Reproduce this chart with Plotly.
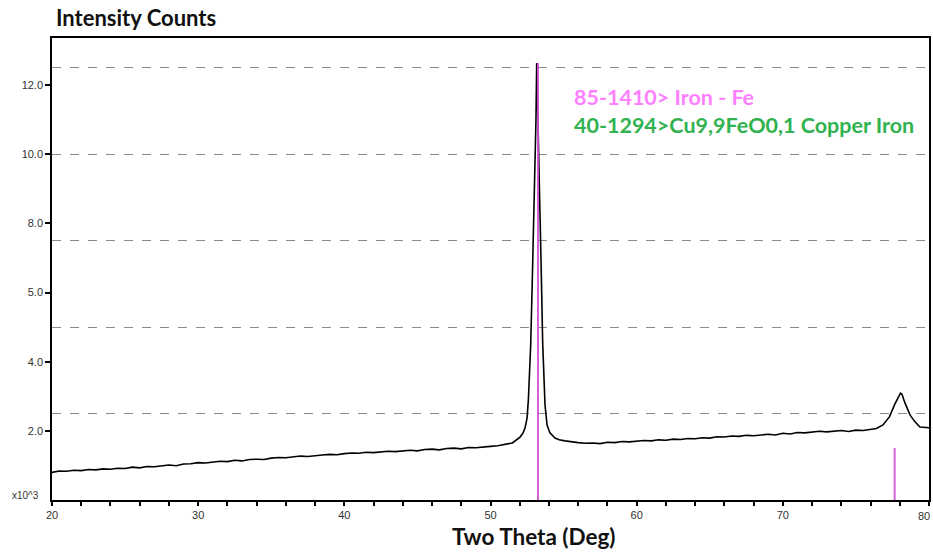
import plotly.graph_objects as go

# ---- data ----
two_theta = [
    20.0, 20.5, 21.0, 21.5, 22.0, 22.5, 23.0, 23.5, 24.0, 24.5, 25.0, 25.5, 26.0, 26.5,
    27.0, 27.5, 28.0, 28.5, 29.0, 29.5, 30.0, 30.5, 31.0, 31.5, 32.0, 32.5, 33.0, 33.5,
    34.0, 34.5, 35.0, 35.5, 36.0, 36.5, 37.0, 37.5, 38.0, 38.5, 39.0, 39.5, 40.0, 40.5,
    41.0, 41.5, 42.0, 42.5, 43.0, 43.5, 44.0, 44.5, 45.0, 45.5, 46.0, 46.5, 47.0, 47.5,
    48.0, 48.5, 49.0, 49.5, 50.0, 50.5, 51.0, 51.5, 52.02, 52.23, 52.36, 52.50, 52.59,
    52.75, 52.86, 53.02, 53.11, 53.16, 53.23, 53.38, 53.47, 53.57, 53.73, 53.87, 54.07,
    54.41, 54.7, 55.1, 55.5, 56.0, 56.5, 57.0, 57.5, 58.0, 58.5, 59.0, 59.5, 60.0, 60.5,
    61.0, 61.5, 62.0, 62.5, 63.0, 63.5, 64.0, 64.5, 65.0, 65.5, 66.0, 66.5, 67.0, 67.5,
    68.0, 68.5, 69.0, 69.5, 70.0, 70.5, 71.0, 71.5, 72.0, 72.5, 73.0, 73.5, 74.0, 74.5,
    75.0, 75.5, 76.0, 76.4, 76.85, 77.3, 77.67, 77.9, 78.05, 78.15, 78.36, 78.7, 79.04,
    79.38, 79.7, 80.0,
]
intensity_k = [
    0.80, 0.84, 0.83, 0.86, 0.85, 0.88, 0.87, 0.90, 0.89, 0.92, 0.91, 0.95, 0.93, 0.97,
    0.96, 0.99, 1.01, 0.99, 1.04, 1.05, 1.08, 1.07, 1.10, 1.12, 1.11, 1.15, 1.13, 1.17,
    1.18, 1.17, 1.21, 1.23, 1.22, 1.25, 1.27, 1.26, 1.29, 1.30, 1.32, 1.31, 1.34, 1.36,
    1.35, 1.38, 1.37, 1.40, 1.41, 1.40, 1.43, 1.44, 1.42, 1.46, 1.47, 1.45, 1.49, 1.50,
    1.48, 1.52, 1.51, 1.54, 1.55, 1.57, 1.60, 1.65, 1.82, 1.94, 2.08, 2.37, 2.89,
    4.48, 6.36, 8.96, 10.99, 12.64, 11.48, 8.82, 6.65, 4.54, 2.75, 2.17, 1.94,
    1.79, 1.74, 1.71, 1.68, 1.66, 1.64, 1.65, 1.63, 1.67, 1.66, 1.69, 1.68, 1.70, 1.72,
    1.71, 1.74, 1.73, 1.76, 1.75, 1.78, 1.77, 1.80, 1.79, 1.83, 1.82, 1.85, 1.84, 1.87,
    1.86, 1.89, 1.90, 1.88, 1.93, 1.91, 1.95, 1.94, 1.96, 1.99, 1.97, 1.98, 2.01, 1.98,
    2.02, 2.01, 2.04, 2.07, 2.17, 2.41, 2.78, 2.95, 3.09, 3.06, 2.80, 2.46, 2.26,
    2.11, 2.09, 2.09,
]

ref_positions = [53.25, 77.65]       # 85-1410 Iron - Fe reference lines
ref_heights = [12.64, 1.50]

y_tick_vals = [2, 4, 6, 8, 10, 12]
y_tick_text = ["2.0", "4.0", "5.0", "8.0", "10.0", "12.0"]
grid_levels = [2.5, 5.0, 7.5, 10.0, 12.5]
x_tick_vals = [20, 30, 40, 50, 60, 70, 80]
x_tick_text = ["20", "30", "40", "50", "60", "70", "80"]

legend_lines = ["85-1410> Iron - Fe", "40-1294>Cu9,9FeO0,1 Copper Iron"]
legend_colors = ["#ff80ff", "#2fb24f"]

# ---- figure ----
fig = go.Figure()

# invisible trace to hold the dashed grid axis (drawn first, behind data)
fig.add_trace(go.Scatter(x=[20], y=[0], yaxis="y2", mode="markers",
                         marker=dict(opacity=0), showlegend=False, hoverinfo="skip"))

fig.add_trace(go.Scatter(
    x=two_theta, y=intensity_k, mode="lines",
    line=dict(color="black", width=1.6), showlegend=False, hoverinfo="skip",
))

rx, ry = [], []
for p, h in zip(ref_positions, ref_heights):
    rx += [p, p, None]
    ry += [0, h, None]
fig.add_trace(go.Scatter(
    x=rx, y=ry, mode="lines", line=dict(color="#d04fd8", width=2),
    opacity=0.9, showlegend=False, hoverinfo="skip",
))

Y_MAX = 13.36
tick_font = dict(family="Liberation Sans", size=11, color="#333333")

# last x label is placed as an annotation so it stays inside the page edge
fig.update_layout(
    width=933, height=552,
    margin=dict(l=52, r=4, t=38, b=52, autoexpand=False),
    paper_bgcolor="white", plot_bgcolor="white",
    font=dict(family="Lato"),
    xaxis=dict(
        range=[20, 80], tickvals=x_tick_vals,
        ticktext=x_tick_text[:-1] + [""],
        ticks="outside", ticklen=4,
        tickcolor="black", tickwidth=1.5, tickfont=tick_font,
        automargin=False,
        minor=dict(dtick=2, tick0=20, ticks="outside", ticklen=4,
                   tickcolor="black", tickwidth=1.5, showgrid=False),
        showgrid=False, zeroline=False,
        showline=True, linecolor="black", linewidth=1.5, mirror=True,
    ),
    yaxis=dict(
        range=[0, Y_MAX], tickvals=y_tick_vals, ticktext=y_tick_text,
        ticks="outside", ticklen=5, tickcolor="black", tickwidth=1.5,
        tickfont=tick_font, showgrid=False, zeroline=False, automargin=False,
        showline=True, linecolor="black", linewidth=1.5, mirror=True,
    ),
    yaxis2=dict(
        range=[0, Y_MAX], overlaying="y", tickvals=grid_levels,
        showticklabels=False, ticks="", showgrid=True, gridcolor="#8a8a8a",
        griddash="dash", gridwidth=1, zeroline=False, showline=False,
        automargin=False,
    ),
    title=dict(
        text="<b>Intensity Counts</b>", x=56 / 933, xanchor="left",
        y=1 - 18 / 552, yanchor="middle",
        font=dict(family="Lato", size=22, color="#111111"),
    ),
)

fig.add_annotation(
    text=x_tick_text[-1], xref="paper", yref="paper",
    x=(932 - 52) / 877, y=-(516 - 500) / 462, xanchor="right", yanchor="middle",
    showarrow=False, font=tick_font,
)
fig.add_annotation(
    text="<b>Two Theta (Deg)</b>", xref="paper", yref="paper",
    x=(534 - 52) / 877, y=-(536 - 500) / 462, xanchor="center", yanchor="middle",
    showarrow=False, font=dict(family="Lato", size=22.5, color="#111111"),
)
fig.add_annotation(
    text="x10^3", xref="paper", yref="paper",
    x=-(52 - 41) / 877, y=(500 - 495) / 462, xanchor="right", yanchor="middle",
    showarrow=False, font=dict(family="Liberation Sans", size=10, color="#333333"),
)

label_y = [11.65, 10.84]
for txt, col, yy in zip(legend_lines, legend_colors, label_y):
    fig.add_annotation(
        text=f"<b>{txt}</b>", xref="x", yref="y", x=55.57, y=yy,
        xanchor="left", yanchor="middle", showarrow=False,
        font=dict(family="Lato", size=21.5, color=col),
    )

fig.write_html("out.html")
